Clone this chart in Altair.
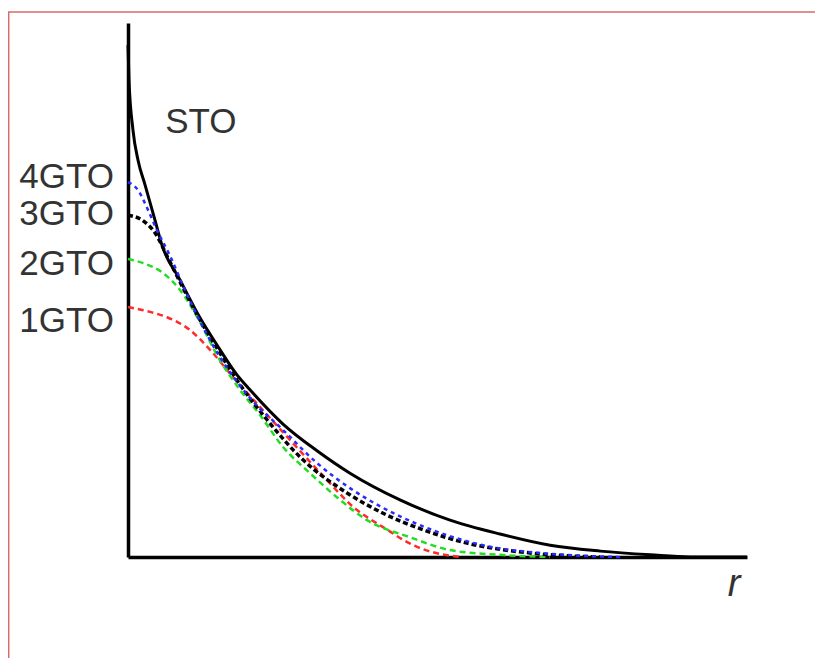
import altair as alt
import pandas as pd

# STO (solid black): r (0..10), amplitude (0..1)
sto_r = [0, 0.016, 0.08, 0.162, 0.275, 0.436, 0.549, 0.840, 1.163, 1.438, 1.761, 1.971, 2.504, 3.053, 3.586, 4.394, 5.202, 6.01, 6.82, 7.63, 8.44, 9.08, 10.0]
sto_v = [0.959, 0.893, 0.800, 0.743, 0.697, 0.631, 0.584, 0.519, 0.448, 0.397, 0.341, 0.313, 0.249, 0.199, 0.157, 0.107, 0.069, 0.043, 0.022, 0.011, 0.004, 0.0, 0.0]

g1_r = [0, 0.355, 0.630, 1.002, 1.325, 1.696, 2.132, 2.666, 3.215, 3.635, 4.120, 4.669, 4.992, 5.363]
g1_v = [0.468, 0.459, 0.449, 0.425, 0.388, 0.337, 0.281, 0.213, 0.144, 0.094, 0.056, 0.019, 0.007, 0.0]

g2_r = [0, 0.275, 0.565, 0.840, 1.163, 1.438, 1.809, 2.132, 2.504, 2.940, 3.425, 3.861, 4.556, 5.202, 6.010, 6.817]
g2_v = [0.558, 0.549, 0.532, 0.500, 0.440, 0.378, 0.313, 0.266, 0.206, 0.157, 0.107, 0.069, 0.037, 0.013, 0.004, 0.0]

g3_r = [0, 0.226, 0.436, 0.646, 0.840, 1.163, 1.438, 1.761, 2.246, 2.827, 3.538, 4.120, 4.766, 5.477, 6.543, 7.625]
g3_v = [0.640, 0.631, 0.607, 0.560, 0.515, 0.444, 0.391, 0.331, 0.257, 0.182, 0.120, 0.082, 0.051, 0.026, 0.007, 0.0]

g4_r = [0, 0.162, 0.323, 0.468, 0.679, 0.921, 1.325, 1.971, 2.504, 3.053, 3.586, 4.120, 4.669, 5.202, 5.735, 6.817, 7.948]
g4_v = [0.702, 0.687, 0.650, 0.612, 0.564, 0.500, 0.406, 0.298, 0.238, 0.176, 0.129, 0.092, 0.062, 0.039, 0.022, 0.006, 0.0]

side_labels = ["4GTO", "3GTO", "2GTO", "1GTO"]
side_label_v = [0.712, 0.642, 0.549, 0.442]

sto_label = ["STO"]
sto_label_r = [0.6]
sto_label_v = [0.815]

xs = alt.Scale(domain=[0, 10], nice=False, zero=False)
ys = alt.Scale(domain=[0, 1], nice=False, zero=False)

def curve(r, v, color, width, dash=None):
    df = pd.DataFrame({"r": r, "v": v})
    kw = dict(color=color, strokeWidth=width, interpolate="monotone")
    if dash:
        kw["strokeDash"] = dash
    return alt.Chart(df).mark_line(**kw).encode(
        x=alt.X("r:Q", scale=xs, axis=alt.Axis(title="r", domain=True, domainColor="black", domainWidth=3.5,
                                                ticks=False, labels=False, grid=False,
                                                titleFontStyle="italic", titleFontSize=38, titleFont="Liberation Sans",
                                                titleColor="#333333", titleAnchor="end", titleAlign="right",
                                                titleBaseline="middle", titleX=612, titleY=27, titleFontWeight="normal")),
        y=alt.Y("v:Q", scale=ys, axis=alt.Axis(title=None, domain=True, domainColor="black", domainWidth=3.5,
                                                ticks=False, labels=False, grid=False)),
    )

sto = curve(sto_r, sto_v, "black", 3)
g1 = curve(g1_r, g1_v, "#ff2a2a", 2.5, [6, 4])
g2 = curve(g2_r, g2_v, "#22dd22", 2.5, [6, 4])
g3 = curve(g3_r, g3_v, "black", 3.5, [5, 3])
g4 = curve(g4_r, g4_v, "#2a2aff", 2.5, [4, 4])

lab_df = pd.DataFrame({"label": side_labels, "v": side_label_v})
labels = alt.Chart(lab_df).mark_text(align="right", baseline="middle", fontSize=35, font="Liberation Sans",
                                     color="#333333").encode(
    x=alt.value(-14), y=alt.Y("v:Q", scale=ys), text="label:N")

sto_df = pd.DataFrame({"label": sto_label, "r": sto_label_r, "v": sto_label_v})
sto_text = alt.Chart(sto_df).mark_text(align="left", baseline="middle", fontSize=35, font="Liberation Sans",
                                       color="#333333").encode(
    x=alt.X("r:Q", scale=xs), y=alt.Y("v:Q", scale=ys), text="label:N")

border_top = alt.Chart(pd.DataFrame({"k": [0]})).mark_rule(color="#d86a6a", strokeWidth=1.5).encode(
    x=alt.value(-120), x2=alt.value(700), y=alt.value(-11))
border_left = alt.Chart(pd.DataFrame({"k": [0]})).mark_rule(color="#d86a6a", strokeWidth=1.5).encode(
    x=alt.value(-119.3), y=alt.value(-11), y2=alt.value(660))

chart = alt.layer(border_top, border_left, sto, g1, g2, g3, g4, labels, sto_text).properties(
    width=619, height=534,
    autosize=alt.AutoSizeParams(type="none"),
    padding={"left": 120, "top": 15, "right": 68, "bottom": 101},
).configure_view(stroke=None)

chart.save("out.html", embed_options={"renderer": "svg", "actions": False})
